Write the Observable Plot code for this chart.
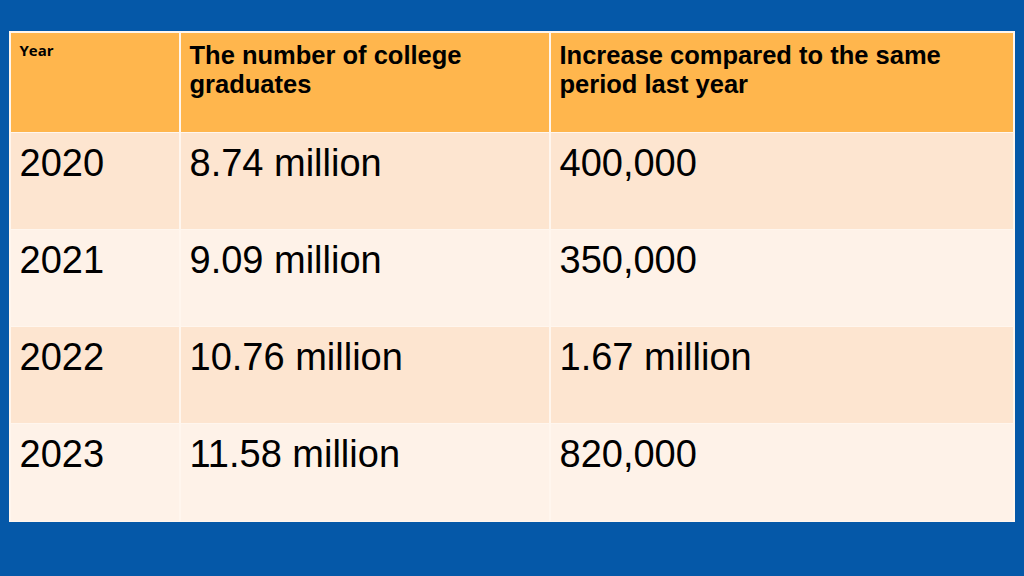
<!DOCTYPE html>
<html>
<head>
<meta charset="utf-8">
<script src="https://cdn.jsdelivr.net/npm/d3@7"></script>
<script src="https://cdn.jsdelivr.net/npm/@observablehq/plot@0.6"></script>
<style>
  html, body { margin: 0; padding: 0; background: #0558A8; }
  #chart svg { display: block; }
</style>
</head>
<body>
<div id="chart"></div>
<script>
// ---- data ----
const headers = ["Year", "The number of college\ngraduates", "Increase compared to the same\nperiod last year"];
const years = ["2020", "2021", "2022", "2023"];
const graduates = ["8.74 million", "9.09 million", "10.76 million", "11.58 million"];
const increases = ["400,000", "350,000", "1.67 million", "820,000"];

// ---- layout ----
const W = 1024, H = 576;
const colEdges = [10, 180, 550, 1014];
const rowEdges = [32, 132, 229, 326, 423, 521];
const textPad = 9;
const headerFill = "#FFB64D";
const rowFills = ["#FDE5D0", "#FEF2E8"];
const gridColor = "#FFF6EE";
const bodyFs = 38, headFs = 25.5, headLH = 30 / 25.5, yearFs = 15;

const cells = [];
const texts = [];
for (let c = 0; c < 3; c++) {
  cells.push({x1: colEdges[c], x2: colEdges[c + 1], y1: rowEdges[0], y2: rowEdges[1], fill: headerFill});
}
const columns = [years, graduates, increases];
years.forEach((_, r) => {
  for (let c = 0; c < 3; c++) {
    cells.push({x1: colEdges[c], x2: colEdges[c + 1], y1: rowEdges[r + 1], y2: rowEdges[r + 2], fill: rowFills[r % 2]});
    texts.push({text: columns[c][r], x: colEdges[c] + textPad, y: rowEdges[r + 1] + 43 - 0.71 * bodyFs});
  }
});

const yearHeader = [{text: headers[0], x: colEdges[0] + textPad, y: 55 - 0.71 * yearFs}];
const otherHeaders = headers.slice(1).map((h, i) => ({text: h, x: colEdges[i + 1] + textPad, y: 63 - 0.71 * headLH * headFs}));

const chart = Plot.plot({
  width: W,
  height: H,
  margin: 0,
  x: {type: "identity"},
  y: {type: "identity"},
  style: {background: "#0558A8"},
  marks: [
    Plot.rect([{x1: colEdges[0], x2: colEdges[3], y1: rowEdges[0], y2: rowEdges[5]}],
      {x1: "x1", x2: "x2", y1: "y1", y2: "y2", fill: gridColor, inset: -1}),
    Plot.rect(cells, {x1: "x1", x2: "x2", y1: "y1", y2: "y2", fill: d => d.fill, insetLeft: 1, insetRight: 1, insetTop: 1, insetBottom: 0}),
    Plot.text(yearHeader, {x: "x", y: "y", text: "text", textAnchor: "start", lineAnchor: "top",
      fontFamily: "Open Sans", fontWeight: "bold", fontSize: yearFs, fill: "#000"}),
    Plot.text(otherHeaders, {x: "x", y: "y", text: "text", textAnchor: "start", lineAnchor: "top",
      lineHeight: headLH, fontFamily: "Liberation Sans, Arial, sans-serif", fontWeight: "bold", fontSize: headFs, fill: "#000"}),
    Plot.text(texts, {x: "x", y: "y", text: "text", textAnchor: "start", lineAnchor: "top",
      fontFamily: "Liberation Sans, Arial, sans-serif", fontSize: bodyFs, fill: "#000"})
  ]
});
document.getElementById("chart").appendChild(chart);
</script>
</body>
</html>
